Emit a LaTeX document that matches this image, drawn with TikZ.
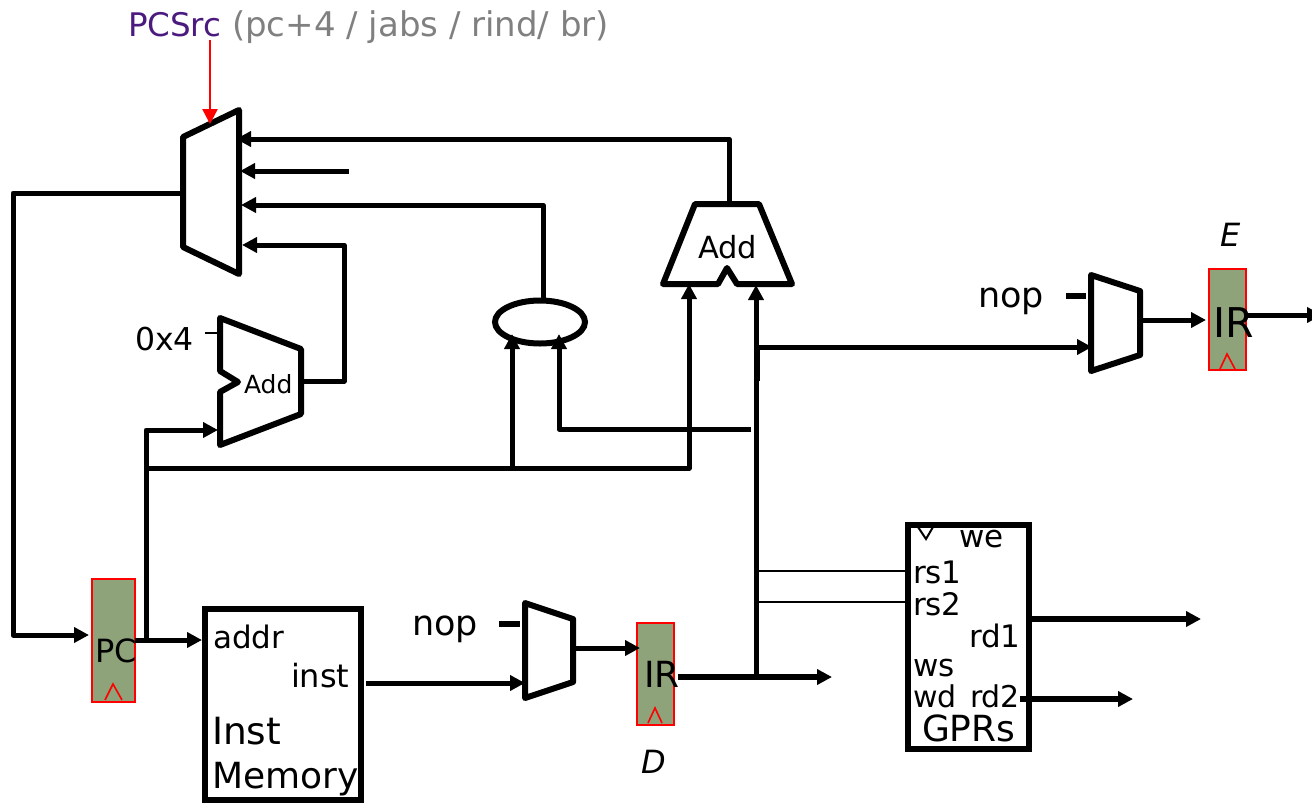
\documentclass[tikz,border=0pt]{standalone}
\usepackage{fontspec}
\setmainfont{DejaVu Sans}
\usetikzlibrary{arrows.meta,shapes.geometric}
\definecolor{regfill}{HTML}{8FA37A}
\definecolor{srcpurple}{HTML}{4B1A7F}
\definecolor{srcgray}{HTML}{808080}
\newcommand{\fz}[1]{\fontsize{#1}{#1}\selectfont}
\tikzset{
  wire/.style={draw=black,line width=5pt,line join=round},
  hwire/.style={draw=black,line width=6pt,line join=round},
  thin wire/.style={draw=black,line width=2pt},
  arr/.style={-{Triangle[length=15pt,width=15pt]}},
  unit/.style={draw=black,line width=6pt,line join=round,fill=white},
  reg/.style={draw=red,line width=2pt,fill=regfill,inner sep=0pt,outer sep=0pt},
  hat/.style={draw=red,line width=1.6pt},
  box/.style={draw=black,line width=6pt,fill=white,inner sep=0pt,outer sep=0pt},
  lbl/.style={anchor=base west,inner sep=0pt,outer sep=0pt,text=black},
}
\begin{document}
\begin{tikzpicture}[x=1pt,y=-1pt]
\useasboundingbox (0,0) rectangle (1312,804);

% ---- end points
\coordinate (srcTop) at (210,40);
\coordinate (srcEnd) at (210,124);
\coordinate (muxOut) at (183,193);
\coordinate (loopA) at (13,193);
\coordinate (loopB) at (13,635);
\coordinate (pcIn) at (89,635);
\coordinate (pcOut) at (135,640);
\coordinate (memIn) at (202,640);
\coordinate (pcUp) at (146,640);
\coordinate (addIn) at (218,430);
\coordinate (addCorner) at (146,430);
\coordinate (busJ) at (146,468);
\coordinate (busEnd) at (689,468);
\coordinate (bigInA) at (689,284);
\coordinate (cmpFoot) at (512,466);
\coordinate (cmpInA) at (512,334);
\coordinate (cmpBstart) at (751,429);
\coordinate (cmpBcorner) at (559,429);
\coordinate (cmpInB) at (559,334);
\coordinate (cmpOut) at (543,300);
\coordinate (cmpTurn) at (543,205);
\coordinate (muxC) at (241,205);
\coordinate (bigOut) at (729,204);
\coordinate (bigTurn) at (729,139);
\coordinate (muxA) at (236,139);
\coordinate (muxBs) at (349,171);
\coordinate (muxB) at (240,171);
\coordinate (addOut) at (301,381);
\coordinate (addTurn) at (344,381);
\coordinate (addUp) at (344,245);
\coordinate (muxD) at (242,245);
\coordinate (tickA) at (205,333);
\coordinate (tickB) at (220,333);
\coordinate (memOut) at (366,683);
\coordinate (dMuxIn) at (525,683);
\coordinate (dMuxOut) at (573,648);
\coordinate (irdIn) at (640,648);
\coordinate (irdOut) at (678,677);
\coordinate (irdEnd) at (832,677);
\coordinate (busUpFoot) at (756,677);
\coordinate (bigInB) at (756,285);
\coordinate (tapE) at (756,347);
\coordinate (eMuxIn) at (1092,347);
\coordinate (stubA) at (757.5,347);
\coordinate (stubB) at (757.5,381);
\coordinate (eMuxOut) at (1140,320);
\coordinate (ireIn) at (1206,320);
\coordinate (ireOut) at (1246,315);
\coordinate (ireEnd) at (1322,315);
\coordinate (rs1a) at (756,571);
\coordinate (rs1b) at (907,571);
\coordinate (rs2a) at (756,602);
\coordinate (rs2b) at (907,602);
\coordinate (rd1a) at (1030,619);
\coordinate (rd1b) at (1201,619);
\coordinate (rd2a) at (1020,699);
\coordinate (rd2b) at (1133,699);
\coordinate (nopDa) at (499,624);
\coordinate (nopDb) at (520,624);
\coordinate (nopEa) at (1066,296);
\coordinate (nopEb) at (1086,296);

% ---- boxes
\node[reg,minimum width=43pt,minimum height=123pt] (PC) at (113.5,640.5) {};
\node[reg,minimum width=37pt,minimum height=102pt] (IRD) at (655.5,674) {};
\node[reg,minimum width=37pt,minimum height=101pt] (IRE) at (1227.5,319.5) {};
\node[box,minimum width=156pt,minimum height=191pt] (mem) at (283,704.5) {};
\node[box,minimum width=121pt,minimum height=224pt] (gprs) at (968.5,637) {};

% ---- register clock marks
\draw[hat] (105,700) -- (113,684) -- (122,700);
\draw[hat] (648,723) -- (655,708) -- (662,723);
\draw[hat] (1220,369) -- (1227,354) -- (1235,369);
\draw[thin wire] (918,527) -- (926,539) -- (933,527);

% ---- functional units
\draw[unit] (183,137) -- (239,110) -- (239,274) -- (183,247) -- cycle;
\draw[unit] (220,318) -- (301,349) -- (301,414) -- (220,445) -- (220,392) -- (238,382) -- (220,371) -- cycle;
\draw[unit] (695,204) -- (759,204) -- (792,284) -- (737,284) -- (727,268) -- (718,284) -- (663,284) -- cycle;
\draw[unit] (525,603) -- (573,619) -- (573,682) -- (525,698) -- cycle;
\draw[unit] (1091,275) -- (1140,291) -- (1140,355) -- (1091,371) -- cycle;
\node[draw=black,line width=6pt,fill=white,shape=ellipse,inner sep=0pt,outer sep=0pt,minimum width=90pt,minimum height=43pt] (cmp) at (540,322) {};

% ---- connectors
\draw[draw=red,line width=2.5pt,-{Triangle[length=15pt,width=15pt]}] (srcTop) -- (srcEnd);
\draw[wire,arr] (muxOut) -- (loopA) -- (loopB) -- (pcIn);
\draw[wire,arr] (pcOut) -- (memIn);
\draw[wire,arr] (pcUp) -- (addCorner) -- (addIn);
\draw[wire,arr] (busJ) -- (busEnd) -- (bigInA);
\draw[wire,arr] (cmpFoot) -- (cmpInA);
\draw[wire,arr] (cmpBstart) -- (cmpBcorner) -- (cmpInB);
\draw[wire,arr] (cmpOut) -- (cmpTurn) -- (muxC);
\draw[wire,arr] (bigOut) -- (bigTurn) -- (muxA);
\draw[wire,arr] (muxBs) -- (muxB);
\draw[wire,arr] (addOut) -- (addTurn) -- (addUp) -- (muxD);
\draw[thin wire] (tickA) -- (tickB);
\draw[wire,arr] (memOut) -- (dMuxIn);
\draw[wire,arr] (dMuxOut) -- (irdIn);
\draw[hwire,arr] (irdOut) -- (irdEnd);
\draw[wire,arr] (busUpFoot) -- (bigInB);
\draw[wire,arr] (tapE) -- (eMuxIn);
\draw[wire] (stubA) -- (stubB);
\draw[wire,arr] (eMuxOut) -- (ireIn);
\begin{scope}
\clip (0,0) rectangle (1312,804);
\draw[wire,arr] (ireOut) -- (ireEnd);
\end{scope}
\draw[thin wire] (rs1a) -- (rs1b);
\draw[thin wire] (rs2a) -- (rs2b);
\draw[hwire,arr] (rd1a) -- (rd1b);
\draw[hwire,arr] (rd2a) -- (rd2b);
\draw[hwire] (nopDa) -- (nopDb);
\draw[hwire] (nopEa) -- (nopEb);

% ---- labels
\node[lbl,text=srcpurple,font=\fz{32.5}] (tPCSrc) at (128,36) {PCSrc};
\node[lbl,text=srcgray,font=\fz{34}] (tOpts) at (232,36) {(pc+4 / jabs / rind/ br)};
\node[lbl,font=\fz{31.5}] (t0x4) at (135,350) {0x4};
\node[lbl,font=\fz{25}] (tAddS) at (244,393) {Add};
\node[lbl,font=\fz{30.5}] (tAddB) at (698,258) {Add};
\node[lbl,font=\fz{35}] (tNopE) at (978,307) {nop};
\node[lbl,font=\fz{35}] (tNopD) at (412,635) {nop};
\node[lbl,font=\fz{32}\itshape] (tE) at (1220,246) {E};
\node[lbl,font=\fz{32}\itshape] (tD) at (641,773) {D};
\node[lbl,font=\fz{32}] (tPC) at (95,662) {PC};
\node[lbl,font=\fz{36}] (tIRD) at (644,687) {IR};
\node[lbl,font=\fz{41}] (tIRE) at (1213,337) {IR};
\node[lbl,font=\fz{31}] (tAddr) at (213,648) {addr};
\node[lbl,font=\fz{32}] (tInst) at (291,687) {inst};
\node[lbl,font=\fz{37.5}] (tInstM) at (212,744) {Inst};
\node[lbl,font=\fz{36}] (tMem) at (212,788) {Memory};
\node[lbl,font=\fz{31}] (tWe) at (959,547) {we};
\node[lbl,font=\fz{31}] (tRs1) at (913,583) {rs1};
\node[lbl,font=\fz{31}] (tRs2) at (913,615) {rs2};
\node[lbl,font=\fz{31}] (tRd1) at (969,647) {rd1};
\node[lbl,font=\fz{31}] (tWs) at (913,676) {ws};
\node[lbl,font=\fz{30}] (tWd) at (913,707) {wd};
\node[lbl,font=\fz{30}] (tRd2) at (970,707) {rd2};
\node[lbl,font=\fz{36}] (tGPRs) at (922,741) {GPRs};
\end{tikzpicture}
\end{document}
